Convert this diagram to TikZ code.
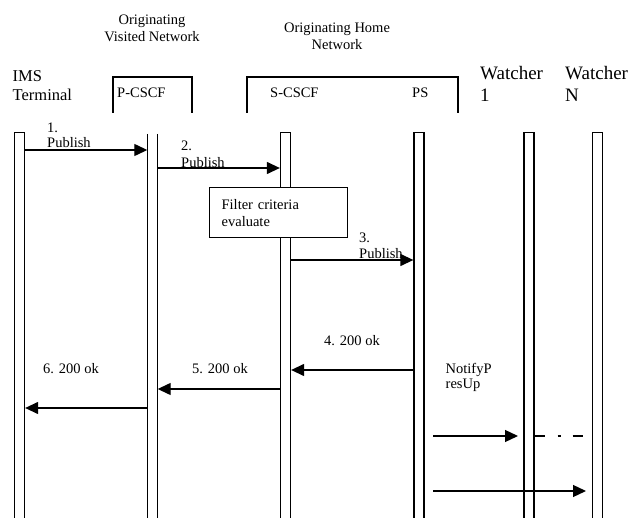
\documentclass[tikz,border=0pt]{standalone}
\usepackage{fontspec}
\setmainfont{Liberation Serif}
\usetikzlibrary{arrows.meta}
\begin{document}
\begin{tikzpicture}[x=1pt,y=-1pt,
  bar/.style={draw, line width=1.3pt, minimum width=10pt, minimum height=400pt, inner sep=0pt, anchor=north},
  msg/.style={line width=1.3pt, -{Triangle[length=13pt,width=12pt]}},
  brk/.style={line width=1.3pt},
  lbl/.style={inner sep=0pt, align=left, font=\fontsize{14.5}{16}\selectfont},
  big/.style={inner sep=0pt, align=left, font=\fontsize{16.5}{18.5}\selectfont},
  huge/.style={inner sep=0pt, align=left, font=\fontsize{19}{22.5}\selectfont}]
\useasboundingbox (0,0) rectangle (633,518);
% headers
\node[lbl, align=center, anchor=north, font=\fontsize{14.5}{16.7}\selectfont] (hvis) at (152,15.1) {Originating\\Visited Network};
\node[lbl, align=center, anchor=north, font=\fontsize{14.5}{17}\selectfont] (hhome) at (337,23.1) {Originating Home\\Network};
\node[big, anchor=north west] (hims) at (12.5,70.8) {IMS\\Terminal};
\node[huge, anchor=north west] (hw1) at (480,66) {Watcher\\1};
\node[huge, anchor=north west] (hwn) at (565,66) {Watcher\\N};
% brackets
\draw[brk] (113,113) -- (113,77) -- (192,77) -- (192,113);
\draw[brk] (247,113) -- (247,77) -- (458,77) -- (458,113);
\node[lbl, anchor=base west] (tp) at (117,98) {P-CSCF};
\node[lbl, anchor=base west] (ts) at (270,98) {S-CSCF};
\node[lbl, anchor=base west] (tps) at (412,98) {PS};
% lifelines
\node[bar] (ims) at (19.5,132) {};
\node[minimum width=10pt, minimum height=400pt, inner sep=0pt, anchor=north] (pcscf) at (152.5,134) {};
\draw[brk] (pcscf.north west) -- (pcscf.south west) (pcscf.north east) -- (pcscf.south east);
\node[bar] (scscf) at (285.5,132) {};
\node[bar] (ps) at (419,132) {};
\node[bar] (w1) at (529,132) {};
\node[bar] (wn) at (597.5,132) {};
% filter box
\node[draw, line width=1.3pt, anchor=north west, minimum width=138pt, minimum height=50pt,
      text width=114pt, inner xsep=12pt, inner ysep=0pt, align=left, fill=white,
      font=\fontsize{14.5}{17}\selectfont] (filt) at (209,187) {Filter criteria\\evaluate};
% messages
\node[lbl, anchor=north west, font=\fontsize{14.5}{15}\selectfont] (l1) at (47,123.2) {1.\\Publish};
\draw[msg] (ims.east |- 0,150) -- (pcscf.west |- 0,150);
\node[lbl, anchor=north west, font=\fontsize{14.5}{16.5}\selectfont] (l2) at (181,141.2) {2.\\Publish};
\draw[msg] (pcscf.east |- 0,168) -- (scscf.west |- 0,168);
\node[lbl, anchor=north west, font=\fontsize{14.5}{16.3}\selectfont] (l3) at (359,232.9) {3.\\Publish};
\draw[msg] (scscf.east |- 0,260) -- (ps.west |- 0,260);
\node[lbl, anchor=base west] (l4) at (324,345.7) {4. 200 ok};
\draw[msg] (ps.west |- 0,370) -- (scscf.east |- 0,370);
\node[lbl, anchor=base west] (l5) at (192,374) {5. 200 ok};
\draw[msg] (scscf.west |- 0,389) -- (pcscf.east |- 0,389);
\node[lbl, anchor=base west] (l6) at (43,374) {6. 200 ok};
\draw[msg] (pcscf.west |- 0,408) -- (ims.east |- 0,408);
\node[lbl, anchor=north west, font=\fontsize{14.5}{15.3}\selectfont] (ln) at (445.5,362.8) {NotifyP\\resUp};
\coordinate (n1s) at (433,436);
\coordinate (n1e) at (518,436);
\coordinate (d1e) at (583,436);
\coordinate (n2s) at (433,491);
\coordinate (n2e) at (586,491);
\draw[msg] (n1s) -- (n1e);
\draw[line width=1.3pt, dash pattern=on 10pt off 13pt on 3pt off 12pt] (w1.east |- n1s) -- (d1e);
\draw[msg] (n2s) -- (n2e);
\end{tikzpicture}
\end{document}
